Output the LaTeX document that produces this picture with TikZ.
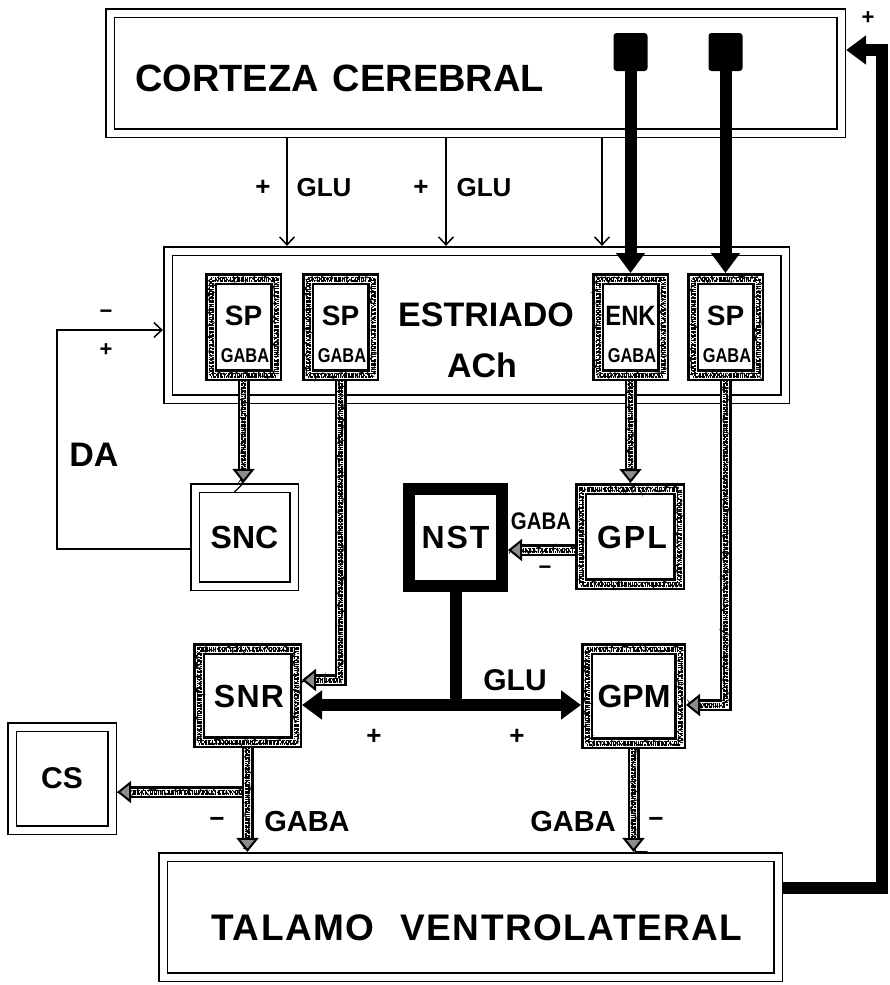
\documentclass[tikz,border=0pt]{standalone}
\usepackage{fontspec}
\usepackage{graphicx}
\setmainfont{Liberation Sans}
\usetikzlibrary{arrows.meta,decorations.markings,decorations.pathmorphing}
\newcommand\myfs[1]{\fontsize{#1}{#1}\selectfont\bfseries}
\newcommand\lsp[1]{\addfontfeature{LetterSpace=#1}}
\newcommand\cnd[2]{\scalebox{#1}[1]{#2}}
\tikzset{
  stiptip/.tip={Triangle[width=22pt,length=14pt,line width=2pt,fill=black!45]},
  bigtip/.tip={Triangle[width=28pt,length=20pt]},
  thintip/.tip={Straight Barb[length=8pt,width=15pt,line width=1.5pt]},
}
\begin{document}
\pgfmathsetseed{7}
\begin{tikzpicture}[x=1pt,y=-1pt,line join=miter,
  dbl/.style={draw=black, line width=1.6pt, double=white, double distance=7pt, inner sep=0pt, outer sep=5.1pt},
  stipbox/.style={draw=black, line width=12pt, inner sep=0pt, outer sep=6pt,
    postaction={draw=white, line width=7pt},
    postaction={draw=black, line width=5pt, dash pattern=on 0.9pt off 1.0pt on 1.6pt off 0.8pt on 0.7pt off 1.4pt on 1.2pt off 0.9pt},
    postaction={draw=black, line width=1.3pt, decorate, decoration={random steps, segment length=1.6pt, amplitude=2.6pt}},
    postaction={draw=white, line width=1.6pt, dash pattern=on 0.8pt off 2.6pt on 1.2pt off 3.1pt}},
  stip/.style={draw=black, line width=12pt, shorten >=12pt,
    postaction={draw=white, line width=7pt, shorten >=12pt},
    postaction={draw=black, line width=5pt, shorten >=12pt, dash pattern=on 0.9pt off 1.0pt on 1.6pt off 0.8pt on 0.7pt off 1.4pt on 1.2pt off 0.9pt},
    postaction={draw=black, line width=1.3pt, shorten >=14pt, decorate, decoration={random steps, segment length=1.6pt, amplitude=2.6pt}},
    postaction={draw=white, line width=1.6pt, shorten >=14pt, dash pattern=on 0.8pt off 2.6pt on 1.2pt off 3.1pt},
    postaction={decorate, decoration={markings, mark=at position 1 with {\arrow{stiptip}}}}},
  thk/.style={draw=black, line width=12pt},
  thn/.style={draw=black, line width=1.5pt},
  txt/.style={inner sep=0pt, text=black},
]
\useasboundingbox (0,0) rectangle (889,985);

% ---------- Corteza
\node[dbl, minimum width=731pt, minimum height=120pt] (cort) at (475.5,73) {};
\node[txt, anchor=west] (cortt) at (135,78) {\myfs{38}CORTEZA\hspace{14pt}CEREBRAL};
\node[fill=black, rounded corners=3pt, minimum width=34pt, minimum height=38pt, inner sep=0pt] (sq1) at (630.5,52) {};
\node[fill=black, rounded corners=3pt, minimum width=34pt, minimum height=38pt, inner sep=0pt] (sq2) at (725.5,52) {};
\node[txt] (plTop) at (868,18) {\myfs{22}+};

% ---------- Estriado
\node[dbl, minimum width=617pt, minimum height=148pt] (estr) at (476.5,325) {};
\node[txt] (estrt) at (486,315) {\myfs{34}ESTRIADO};
\node[txt] (acht) at (482,365) {\myfs{34}ACh};

\node[stipbox, minimum width=65pt, minimum height=96pt] (b1) at (243.5,327) {};
\node[stipbox, minimum width=65pt, minimum height=96pt] (b2) at (340.5,327) {};
\node[stipbox, minimum width=65pt, minimum height=96pt] (b3) at (630.5,327) {};
\node[stipbox, minimum width=65pt, minimum height=96pt] (b4) at (725.5,327) {};
\node[txt] (b1t) at (243.5,316) {\myfs{28}SP};
\node[txt] (b2t) at (340.5,316) {\myfs{28}SP};
\node[txt] (b3t) at (630.5,316) {\myfs{28}\cnd{0.85}{ENK}};
\node[txt] (b4t) at (725.5,316) {\myfs{28}SP};
\node[txt] (b1g) at (245,356) {\myfs{20}\cnd{0.82}{GABA}};
\node[txt] (b2g) at (342,356) {\myfs{20}\cnd{0.82}{GABA}};
\node[txt] (b3g) at (632,356) {\myfs{20}\cnd{0.82}{GABA}};
\node[txt] (b4g) at (727,356) {\myfs{20}\cnd{0.82}{GABA}};

% thin arrows cortex -> striatum
\coordinate (g1) at (287,0);
\coordinate (g2) at (446,0);
\coordinate (g3) at (602,0);
\draw[thn,-{thintip}] (cort.south -| g1) -- (estr.north -| g1);
\draw[thn,-{thintip}] (cort.south -| g2) -- (estr.north -| g2);
\draw[thn,-{thintip}] (cort.south -| g3) -- (estr.north -| g3);
\node[txt] (p1) at (263,188) {\myfs{26}+};
\node[txt] (glu1) at (324,188) {\myfs{26}GLU};
\node[txt] (p2) at (421,188) {\myfs{26}+};
\node[txt] (glu2) at (484,188) {\myfs{26}GLU};

% thick arrows from squares
\draw[thk,-{bigtip}] (sq1.south) -- (b3.north);
\draw[thk,-{bigtip}] (sq2.south) -- (b4.north);

% ---------- middle row
\node[dbl, minimum width=99pt, minimum height=98pt] (snc) at (244.5,537) {\myfs{32}SNC};
\node[draw=black, line width=12pt, inner sep=0pt, outer sep=6pt, minimum width=93pt, minimum height=97pt] (nst) at (455.5,537.5) {\myfs{32}\lsp{6}NST};
\node[stipbox, minimum width=98pt, minimum height=95pt] (gpl) at (630,536.5) {};
\node[txt] (gplt) at (632,537) {\myfs{32}\lsp{6}GPL};
\node[txt] (gabaN) at (541,521) {\myfs{24}\cnd{0.85}{GABA}};
\node[txt] (mN) at (545,570) {\myfs{22}−};

% ---------- lower row
\node[stipbox, minimum width=97pt, minimum height=93pt] (snr) at (247.5,695.5) {};
\node[txt] (snrt) at (249,696) {\myfs{32}\lsp{4}SNR};
\node[stipbox, minimum width=93pt, minimum height=94pt] (gpm) at (633.5,696) {};
\node[txt] (gpmt) at (634,696) {\myfs{32}GPM};
\node[txt] (gluN) at (515,680) {\myfs{30}GLU};
\node[txt] (p3) at (374,737) {\myfs{26}+};
\node[txt] (p4) at (517,737) {\myfs{26}+};

\node[dbl, minimum width=100pt, minimum height=103pt] (cs) at (62,778.5) {\myfs{30}CS};

% ---------- Talamo
\node[dbl, minimum width=615pt, minimum height=120pt] (tal) at (470.5,917) {};
\node[txt] (talt) at (477,928) {\myfs{37}\lsp{4}TALAMO\hspace{26pt}VENTROLATERAL};

\node[txt] (m1) at (217,822) {\myfs{26}−};
\node[txt] (gaba1) at (307,822) {\myfs{29}GABA};
\node[txt] (gaba2) at (573,822) {\myfs{29}GABA};
\node[txt] (m2) at (656,822) {\myfs{26}−};

% ---------- DA loop
\coordinate (d1) at (57,549);
\coordinate (d2) at (57,330);
\draw[thn,-{thintip}] (d1 -| snc.west) -- (d1) -- (d2) -- (d2 -| estr.west);
\node[txt] (mDA) at (106,314) {\myfs{22}−};
\node[txt] (pDA) at (106,350) {\myfs{22}+};
\node[txt] (da) at (94,455) {\myfs{34}DA};

% ---------- stippled connectors
\coordinate (j2) at (340.5,680);
\coordinate (j4) at (725.5,705);
\coordinate (j5) at (0,550);
\coordinate (j7) at (248,792);
\draw[stip] (j7) -- (j7 -| cs.east);
\draw[stip] (b1.south) -- (b1.south |- snc.north);
\draw[stip] (b3.south) -- (b3.south |- gpl.north);
\draw[stip] (b2.south) -- (j2) -- (j2 -| snr.east);
\draw[stip] (b4.south) -- (j4) -- (j4 -| gpm.east);
\draw[stip] (j5 -| gpl.west) -- (j5 -| nst.east);
\draw[stip] (snr.south) -- (snr.south |- tal.north);
\draw[stip] (gpm.south) -- (gpm.south |- tal.north);

% ---------- thick NST output
\coordinate (j6) at (0,705);
\draw[thk] (nst.south) -- (nst.south |- j6);
\draw[thk,{bigtip}-{bigtip}] (j6 -| snr.east) -- (j6 -| gpm.west);

% ---------- feedback thalamus -> cortex
\coordinate (f1) at (882,888);
\coordinate (f2) at (882,50);
\draw[thk,-{bigtip}] (f1 -| tal.east) -- (f1) -- (f2) -- (f2 -| cort.east);
\end{tikzpicture}
\end{document}
